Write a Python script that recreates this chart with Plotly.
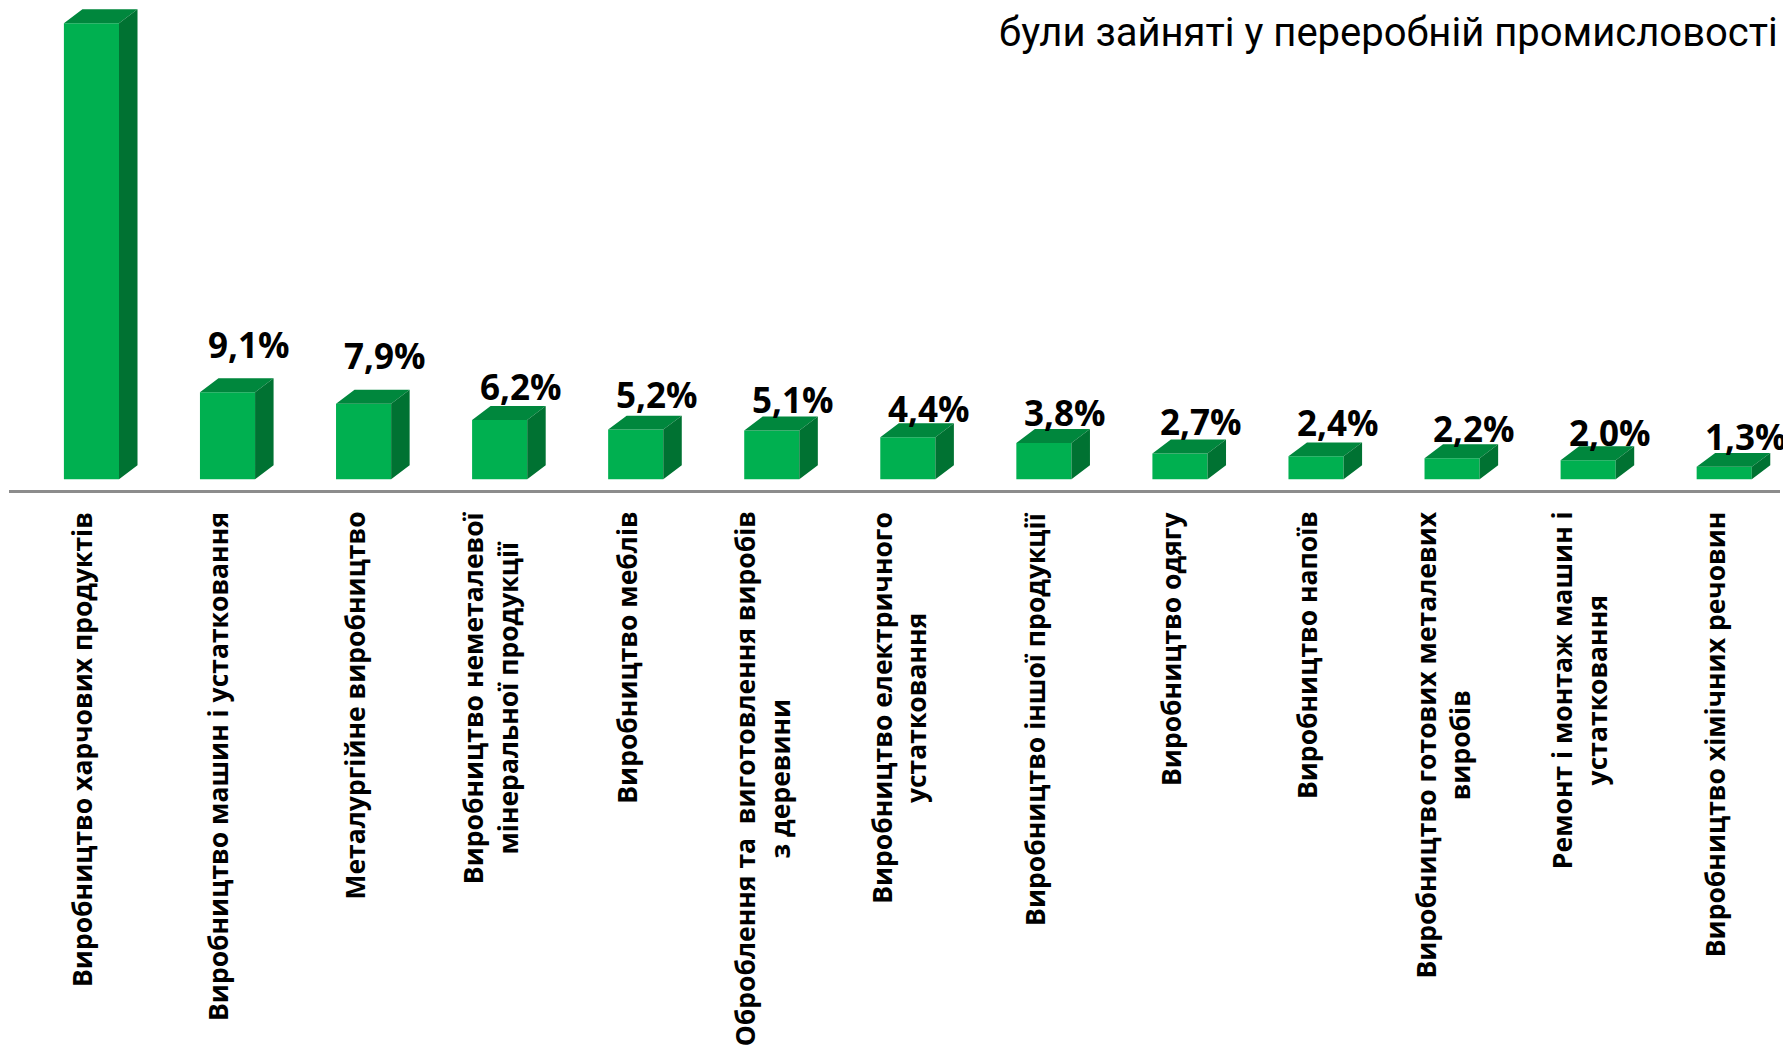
import plotly.graph_objects as go

# share of workers by manufacturing sub-sector, %
CATEGORIES = [
    "Виробництво харчових продуктів",
    "Виробництво машин і устатковання",
    "Металургійне виробництво",
    "Виробництво неметалевої<br>мінеральної продукції",
    "Виробництво меблів",
    "Оброблення та  виготовлення виробів<br>з деревини",
    "Виробництво електричного<br>устатковання",
    "Виробництво іншої продукції",
    "Виробництво одягу",
    "Виробництво напоїв",
    "Виробництво готових металевих<br>виробів",
    "Ремонт і монтаж машин і<br>устатковання",
    "Виробництво хімічних речовин",
]
SHARES = [47.7, 9.1, 7.9, 6.2, 5.2, 5.1, 4.4, 3.8, 2.7, 2.4, 2.2, 2.0, 1.3]
TITLE_LINE = "були зайняті у переробній промисловості"

# styling
FRONT, TOP, SIDE = "#00B050", "#00873D", "#007232"
BAR_W = 0.405          # front face width, category units
DX, DY = 0.136, 1.46   # 3-D depth offset (x in category units, y in % units)
LABEL_GAP = [34, 34, 34, 20, 21, 17, 15, 17, 18, 20, 16, 14, 16]  # px above bar top
FONT = "Open Sans, Noto Sans, sans-serif"

idx = list(range(len(SHARES)))

fig = go.Figure()
fig.add_bar(x=idx, y=SHARES, width=BAR_W, marker=dict(color=FRONT, line=dict(width=0)),
            hoverinfo="skip")

# top and side faces of the pseudo-3D boxes
top_x, top_y, side_x, side_y = [], [], [], []
for i, v in zip(idx, SHARES):
    l, r = i - BAR_W / 2, i + BAR_W / 2
    top_x += [l, l + DX, r + DX, r, l, None]
    top_y += [v, v + DY, v + DY, v, v, None]
    side_x += [r, r + DX, r + DX, r, r, None]
    side_y += [0, DY, v + DY, v, 0, None]
fig.add_scatter(x=top_x, y=top_y, fill="toself", fillcolor=TOP, mode="lines",
                line=dict(width=0, color=TOP), hoverinfo="skip")
fig.add_scatter(x=side_x, y=side_y, fill="toself", fillcolor=SIDE, mode="lines",
                line=dict(width=0, color=SIDE), hoverinfo="skip")

# value labels (the first one sits above the cropped top edge)
for i, v, gap in zip(idx[1:], SHARES[1:], LABEL_GAP[1:]):
    fig.add_annotation(x=i + DX, y=v + DY, text=f"{v:.1f}".replace(".", ",") + "%",
                       showarrow=False, yanchor="middle", yshift=gap, xshift=3,
                       font=dict(family=FONT, size=35, color="black", weight="bold"))

# category labels, rotated, lines centred on each other
for i, name in zip(idx, CATEGORIES):
    fig.add_annotation(x=i - 0.07, y=-0.0405, yref="paper", text=name, textangle=-90,
                       showarrow=False, yanchor="top", align="center",
                       font=dict(family=FONT, size=26.5, color="black", weight="bold"))

fig.add_annotation(x=1.0, y=1, xref="paper", yref="paper", text=TITLE_LINE,
                   showarrow=False, xanchor="right", yanchor="top", yshift=1,
                   font=dict(family="Roboto, Open Sans, sans-serif", size=40, color="black"))

# page body keeps an 8px margin, so the figure is sized to fit inside the window
fig.update_layout(
    width=1783, height=1041, showlegend=False,
    paper_bgcolor="white", plot_bgcolor="white",
    margin=dict(l=1, r=11, t=0, b=559),
    xaxis=dict(range=[-0.606, 12.41], showline=True, linecolor="#8C8C8C", linewidth=3,
               showticklabels=False, ticks="", showgrid=False, zeroline=False),
    yaxis=dict(range=[-1.12, 49.30], visible=False, showgrid=False, zeroline=False),
)
fig.write_html("out.html")
